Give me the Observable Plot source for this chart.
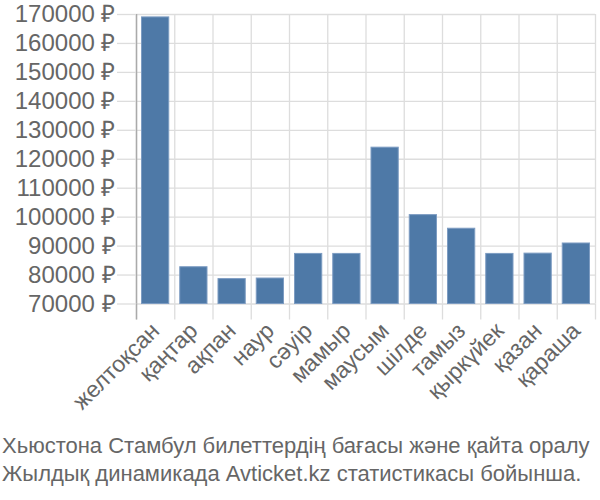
<!DOCTYPE html>
<html>
<head>
<meta charset="utf-8">
<script src="https://cdn.jsdelivr.net/npm/d3@7"></script>
<script src="https://cdn.jsdelivr.net/npm/@observablehq/plot@0.6"></script>
<style>
  html, body { margin: 0; padding: 0; background: #fff; }
  #caption { font-family: "Liberation Sans", Arial, sans-serif; font-size: 22px; color: #666; line-height: 28px; padding-left: 2px; margin-top: 7px; white-space: nowrap; }
</style>
</head>
<body>
<div id="chart"></div>
<div id="caption">Хьюстона Стамбул билеттердің бағасы және қайта оралу<br>Жылдық динамикада Avticket.kz статистикасы бойынша.</div>
<script>
const months = ["желтоқсан", "қаңтар", "ақпан", "наур", "сәуір", "мамыр", "маусым", "шілде", "тамыз", "қыркүйек", "қазан", "қараша"];
const prices = [169000, 82700, 78600, 78800, 87300, 87300, 124000, 100700, 96000, 87300, 87400, 90900];
const yTicks = [70000, 80000, 90000, 100000, 110000, 120000, 130000, 140000, 150000, 160000, 170000];
const baseline = 70000;

const data = months.map((m, i) => ({ m, i, p: prices[i] }));
const edges = d3.range(0, months.length + 1);

const chart = Plot.plot({
  width: 600,
  height: 425,
  marginLeft: 136,
  marginRight: 5,
  marginTop: 14,
  marginBottom: 121.5,
  style: { fontFamily: "Liberation Sans, Arial, sans-serif", background: "#fff" },
  x: { domain: [0, months.length], axis: null },
  y: { domain: [baseline, 170000], axis: null },
  marks: [
    Plot.gridY({ ticks: yTicks, stroke: "#ddd", strokeOpacity: 1, strokeWidth: 1.3 }),
    Plot.gridX({ ticks: edges, stroke: "#ddd", strokeOpacity: 1, strokeWidth: 1.3 }),
    Plot.axisX({ ticks: edges, tickSize: 16, tickFormat: () => "", stroke: "#ddd", strokeWidth: 1.3, label: null }),
    Plot.rectY(data, { x1: d => d.i, x2: d => d.i + 1, y1: baseline, y2: "p", insetLeft: 5.5, insetRight: 5.5, fill: "#4e79a7", stroke: "#7d9cc2", strokeWidth: 1 }),
    Plot.ruleX([0], { stroke: "#aaa", strokeWidth: 1.5 }),
    Plot.axisX({ ticks: [0], tickSize: 16, tickFormat: () => "", stroke: "#aaa", strokeWidth: 1.5, label: null }),
    Plot.axisY({ ticks: yTicks, tickFormat: d => `${d} ₽`, fontSize: 24, tickSize: 19, tickPadding: 2, stroke: "#ddd", strokeWidth: 1.3, fill: "#666", label: null }),
    Plot.axisX({ ticks: data.map(d => d.i + 0.5), tickFormat: v => months[Math.floor(v)], tickRotate: -45, tickSize: 0, tickPadding: 23, fontSize: 23, fill: "#666", label: null })
  ]
});
document.getElementById("chart").appendChild(chart);
</script>
</body>
</html>
